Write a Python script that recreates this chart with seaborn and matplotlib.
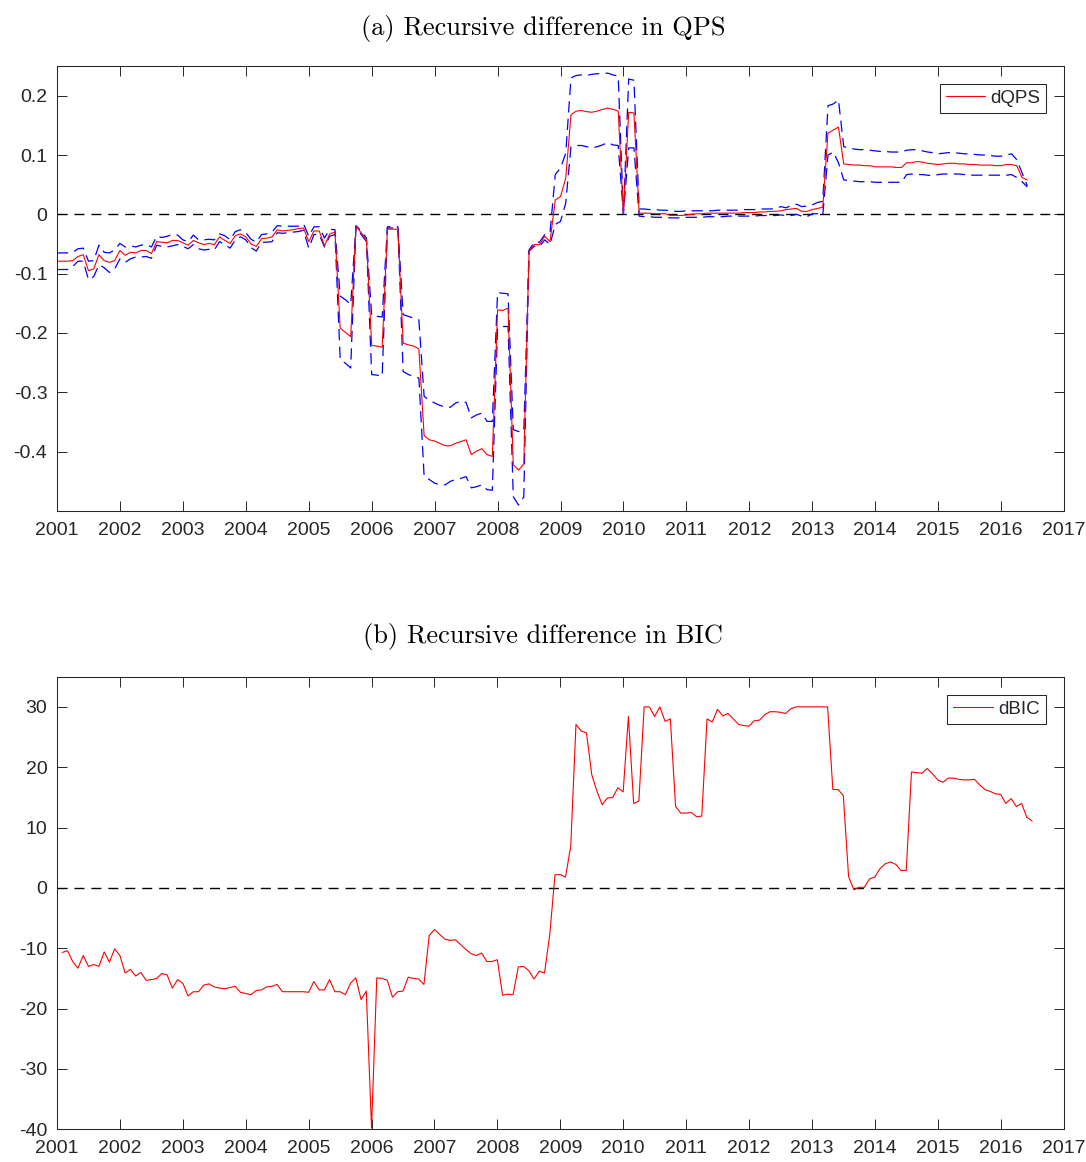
import numpy as np
import pandas as pd
import matplotlib
matplotlib.use("Agg")
import matplotlib.pyplot as plt
from matplotlib.lines import Line2D
import seaborn as sns

# ---------------- data (monthly) ----------------
qps_start_year, qps_start_month = 2001, 1
bic_start_year, bic_start_month = 2001, 2

dqps = [
    -0.079, -0.079, -0.079, -0.078, -0.071, -0.068, -0.095, -0.092, -0.068, -0.078,
    -0.081, -0.078, -0.061, -0.069, -0.064, -0.065, -0.061, -0.061, -0.066, -0.046,
    -0.047, -0.048, -0.044, -0.044, -0.048, -0.052, -0.044, -0.048, -0.051, -0.049,
    -0.051, -0.038, -0.044, -0.049, -0.036, -0.033, -0.038, -0.050, -0.054, -0.041,
    -0.040, -0.038, -0.026, -0.028, -0.027, -0.026, -0.024, -0.023, -0.046, -0.028,
    -0.028, -0.053, -0.033, -0.030, -0.192, -0.199, -0.206, -0.020, -0.031, -0.043,
    -0.221, -0.222, -0.224, -0.025, -0.025, -0.025, -0.217, -0.220, -0.222, -0.227,
    -0.373, -0.380, -0.382, -0.386, -0.390, -0.390, -0.386, -0.383, -0.380, -0.405,
    -0.399, -0.395, -0.405, -0.408, -0.161, -0.162, -0.158, -0.422, -0.431, -0.421,
    -0.061, -0.051, -0.051, -0.037, -0.046, 0.024, 0.030, 0.061, 0.168, 0.174,
    0.175, 0.173, 0.172, 0.174, 0.177, 0.179, 0.177, 0.174, 0.001, 0.172,
    0.171, 0.002, 0.002, 0.002, 0.001, 0.001, 0.001, -0.002, -0.002, -0.002,
    -0.001, 0.000, 0.001, 0.001, 0.002, 0.002, 0.002, 0.002, 0.002, 0.002,
    0.002, 0.003, 0.003, 0.003, 0.004, 0.004, 0.005, 0.005, 0.006, 0.008,
    0.009, 0.010, 0.005, 0.005, 0.008, 0.010, 0.012, 0.137, 0.142, 0.147,
    0.085, 0.084, 0.083, 0.083, 0.082, 0.082, 0.080, 0.080, 0.080, 0.080,
    0.079, 0.079, 0.087, 0.087, 0.089, 0.088, 0.086, 0.085, 0.084, 0.085,
    0.086, 0.086, 0.085, 0.085, 0.084, 0.084, 0.083, 0.083, 0.083, 0.082,
    0.082, 0.084, 0.084, 0.082, 0.062, 0.058,
]

dqps_upper = [
    -0.065, -0.065, -0.065, -0.064, -0.058, -0.057, -0.079, -0.078, -0.052, -0.064,
    -0.065, -0.060, -0.049, -0.055, -0.053, -0.055, -0.052, -0.051, -0.055, -0.037,
    -0.039, -0.037, -0.034, -0.035, -0.043, -0.046, -0.035, -0.043, -0.043, -0.042,
    -0.043, -0.033, -0.036, -0.043, -0.029, -0.026, -0.031, -0.042, -0.047, -0.034,
    -0.033, -0.030, -0.019, -0.020, -0.020, -0.020, -0.020, -0.016, -0.037, -0.021,
    -0.021, -0.040, -0.025, -0.026, -0.138, -0.144, -0.152, -0.019, -0.028, -0.040,
    -0.171, -0.172, -0.173, -0.021, -0.021, -0.021, -0.169, -0.172, -0.175, -0.178,
    -0.307, -0.313, -0.318, -0.322, -0.325, -0.325, -0.318, -0.315, -0.317, -0.343,
    -0.338, -0.335, -0.349, -0.349, -0.132, -0.133, -0.134, -0.363, -0.366, -0.366,
    -0.060, -0.047, -0.047, -0.034, -0.031, 0.067, 0.078, 0.103, 0.230, 0.234,
    0.235, 0.234, 0.236, 0.237, 0.237, 0.238, 0.235, 0.233, 0.001, 0.228,
    0.226, 0.009, 0.009, 0.008, 0.008, 0.007, 0.007, 0.006, 0.005, 0.005,
    0.006, 0.006, 0.006, 0.006, 0.006, 0.006, 0.007, 0.007, 0.007, 0.007,
    0.007, 0.008, 0.008, 0.008, 0.009, 0.009, 0.009, 0.010, 0.013, 0.011,
    0.015, 0.017, 0.013, 0.014, 0.016, 0.020, 0.022, 0.183, 0.186, 0.193,
    0.114, 0.112, 0.110, 0.109, 0.109, 0.108, 0.107, 0.106, 0.106, 0.105,
    0.105, 0.105, 0.108, 0.109, 0.109, 0.107, 0.105, 0.104, 0.102, 0.103,
    0.104, 0.104, 0.103, 0.102, 0.102, 0.101, 0.100, 0.100, 0.099, 0.098,
    0.098, 0.100, 0.102, 0.092, 0.070, 0.048,
]

dqps_lower = [
    -0.093, -0.093, -0.093, -0.088, -0.079, -0.079, -0.110, -0.105, -0.085, -0.090,
    -0.098, -0.092, -0.075, -0.081, -0.075, -0.072, -0.072, -0.071, -0.074, -0.052,
    -0.054, -0.055, -0.053, -0.051, -0.054, -0.058, -0.051, -0.058, -0.060, -0.059,
    -0.060, -0.046, -0.051, -0.057, -0.043, -0.038, -0.043, -0.056, -0.062, -0.047,
    -0.047, -0.046, -0.031, -0.032, -0.031, -0.030, -0.029, -0.027, -0.057, -0.034,
    -0.034, -0.055, -0.037, -0.034, -0.245, -0.251, -0.259, -0.021, -0.034, -0.046,
    -0.270, -0.271, -0.273, -0.023, -0.023, -0.023, -0.265, -0.270, -0.273, -0.276,
    -0.442, -0.447, -0.453, -0.456, -0.456, -0.450, -0.447, -0.445, -0.442, -0.461,
    -0.459, -0.456, -0.464, -0.465, -0.192, -0.189, -0.189, -0.476, -0.490, -0.476,
    -0.062, -0.054, -0.054, -0.043, -0.051, -0.017, -0.012, 0.019, 0.114, 0.116,
    0.116, 0.114, 0.112, 0.114, 0.117, 0.121, 0.117, 0.116, 0.001, 0.112,
    0.112, -0.003, -0.004, -0.004, -0.005, -0.005, -0.005, -0.006, -0.006, -0.006,
    -0.005, -0.005, -0.005, -0.005, -0.004, -0.004, -0.004, -0.004, -0.003, -0.003,
    -0.003, -0.003, -0.003, -0.003, -0.002, -0.002, -0.002, -0.002, -0.001, -0.002,
    -0.002, 0.000, -0.003, -0.004, 0.001, 0.001, -0.002, 0.100, 0.105, 0.087,
    0.058, 0.057, 0.056, 0.055, 0.055, 0.055, 0.054, 0.054, 0.054, 0.054,
    0.054, 0.054, 0.067, 0.068, 0.067, 0.067, 0.066, 0.065, 0.067, 0.068,
    0.068, 0.068, 0.068, 0.067, 0.066, 0.066, 0.066, 0.066, 0.066, 0.066,
    0.066, 0.066, 0.067, 0.062, 0.055, 0.046,
]

dbic = [
    -10.7, -10.4, -12.2, -13.3, -11.2, -13.0, -12.7, -13.0, -10.6, -12.3,
    -10.1, -11.2, -14.1, -13.5, -14.6, -14.0, -15.3, -15.2, -15.0, -14.2,
    -14.4, -16.6, -15.2, -15.8, -17.9, -17.2, -17.2, -16.1, -15.9, -16.4,
    -16.6, -16.7, -16.5, -16.3, -17.3, -17.5, -17.7, -17.0, -16.9, -16.4,
    -16.3, -16.0, -17.2, -17.2, -17.2, -17.2, -17.2, -17.3, -15.5, -16.9,
    -16.9, -15.2, -17.2, -17.2, -17.7, -15.8, -14.9, -18.5, -17.1, -39.8,
    -14.9, -15.0, -15.3, -18.1, -17.2, -17.1, -14.8, -15.0, -15.1, -16.0,
    -7.9, -6.9, -7.7, -8.5, -8.7, -8.6, -9.4, -10.2, -10.9, -11.2,
    -10.8, -12.2, -12.2, -11.9, -17.8, -17.6, -17.7, -13.1, -13.0, -13.7,
    -15.1, -13.8, -14.1, -7.7, 2.2, 2.2, 1.8, 6.9, 27.1, 26.0,
    25.7, 18.8, 16.0, 13.8, 14.9, 15.0, 16.6, 15.9, 28.4, 14.0,
    14.4, 30.0, 30.0, 28.4, 30.0, 27.6, 28.0, 13.5, 12.4, 12.4,
    12.5, 11.8, 11.9, 28.0, 27.5, 29.6, 28.5, 28.9, 28.0, 27.1,
    26.9, 26.8, 27.7, 27.8, 28.7, 29.2, 29.2, 29.1, 28.9, 29.7,
    30.0, 30.0, 30.0, 30.0, 30.0, 30.0, 30.0, 16.3, 16.3, 15.3,
    1.9, -0.3, 0.1, 0.1, 1.5, 1.8, 3.2, 4.0, 4.3, 3.9,
    2.9, 2.9, 19.2, 19.1, 19.0, 19.8, 18.9, 17.9, 17.5, 18.2,
    18.2, 18.0, 17.9, 17.9, 18.0, 17.1, 16.3, 16.0, 15.6, 15.5,
    14.0, 14.8, 13.5, 14.0, 11.7, 11.1,
]

year_ticks = list(range(2001, 2018))
qps_yticks = [0.2, 0.1, 0.0, -0.1, -0.2, -0.3, -0.4]
bic_yticks = [30, 20, 10, 0, -10, -20, -30, -40]
title_a = "(a) Recursive difference in QPS"
title_b = "(b) Recursive difference in BIC"


def month_axis(y0, m0, n):
    return y0 + (m0 - 1 + np.arange(n)) / 12.0


x_qps = month_axis(qps_start_year, qps_start_month, len(dqps))
x_bic = month_axis(bic_start_year, bic_start_month, len(dbic))

# ---------------- style ----------------
sns.set_style("ticks")
plt.rcParams["font.family"] = ["Liberation Sans", "DejaVu Sans"]
plt.rcParams["axes.unicode_minus"] = False

AX_COL = "#262626"
W, H = 1086, 1162
fig = plt.figure(figsize=(W / 100, H / 100), dpi=100)
ax1 = fig.add_axes([57 / W, 1 - 511 / H, (1064 - 57) / W, (511 - 66) / H])
ax2 = fig.add_axes([57 / W, 1 - 1129.3 / H, (1063.5 - 57) / W, (1129.3 - 676.7) / H])

dash_blue = (0, (9.0, 5.0))
dash_zero = (0, (7.2, 5.0))

for ax in (ax1, ax2):
    ax.axhline(0, color="black", lw=1.0, ls=dash_zero, zorder=1)

sns.lineplot(x=x_qps, y=dqps_upper, ax=ax1, color="#0000FF", lw=0.9,
             linestyle=dash_blue, sort=False, label="_nolegend_", zorder=2)
sns.lineplot(x=x_qps, y=dqps_lower, ax=ax1, color="#0000FF", lw=0.9,
             linestyle=dash_blue, sort=False, label="_nolegend_", zorder=2)
sns.lineplot(x=x_qps, y=dqps, ax=ax1, color="#FF0000", lw=0.8,
             sort=False, label="_nolegend_", zorder=3)
sns.lineplot(x=x_bic, y=dbic, ax=ax2, color="#FF0000", lw=0.8,
             sort=False, label="_nolegend_", zorder=3)

ax1.set_xlim(2001, 2017)
ax1.set_ylim(-0.5, 0.25)
ax2.set_xlim(2001, 2017)
ax2.set_ylim(-40, 35)

for ax, yt, name in ((ax1, qps_yticks, "dQPS"), (ax2, bic_yticks, "dBIC")):
    ax.set_xticks(year_ticks)
    ax.set_xticklabels([str(y) for y in year_ticks])
    ax.set_yticks(yt)
    ax.set_yticklabels([f"{v:g}" for v in yt])
    ax.tick_params(axis="both", which="both", direction="in", length=7.5, width=0.7,
                   colors=AX_COL, labelsize=14, top=True, right=True)
    ax.tick_params(axis="x", pad=8)
    ax.tick_params(axis="y", pad=7)
    for s in ax.spines.values():
        s.set_visible(True)
        s.set_color(AX_COL)
        s.set_linewidth(0.75)
    ax.set_xlabel("")
    ax.set_ylabel("")
    h = Line2D([], [], color="#FF0000", lw=0.8)
    leg = ax.legend([h], [name], loc="upper right", fontsize=13.5, frameon=True,
                    fancybox=False, edgecolor=AX_COL, framealpha=1,
                    handlelength=2.1, handletextpad=0.28, borderpad=0.32,
                    borderaxespad=0.95)
    leg.get_frame().set_linewidth(0.75)

fig.text(0.5, 1 - 28 / H, title_a, ha="center", va="center",
         fontfamily="cmr10", fontsize=19, color="black")
fig.text(0.5, 1 - 637 / H, title_b, ha="center", va="center",
         fontfamily="cmr10", fontsize=19, color="black")

fig.savefig("out.png", dpi=100, facecolor="white")
